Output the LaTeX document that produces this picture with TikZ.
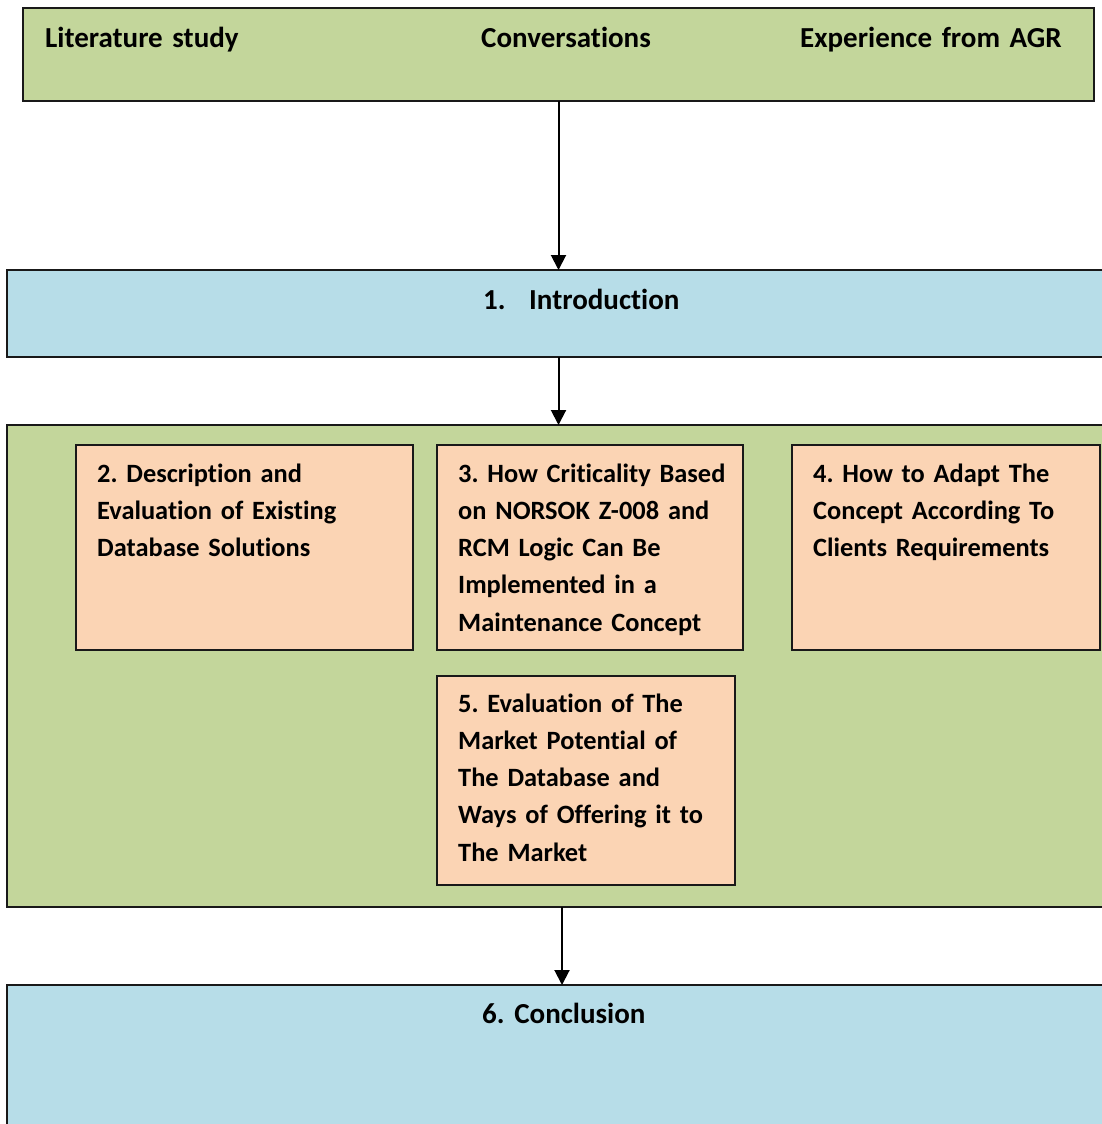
\documentclass[tikz,border=0pt]{standalone}
\usepackage{fontspec}
\setmainfont{Carlito}[Ligatures=NoCommon, WordSpace=0.85]
\usetikzlibrary{arrows.meta,calc}
\definecolor{boxgreen}{HTML}{C3D69B}
\definecolor{boxblue}{HTML}{B7DDE8}
\definecolor{boxpeach}{HTML}{FBD4B4}
\frenchspacing
\begin{document}
\begin{tikzpicture}[x=1pt,y=-1pt,
  frame/.style={draw=black!90, line width=2pt, inner sep=0pt, outer sep=0pt,
    anchor=north west, rectangle},
  txt/.style={anchor=base west, inner sep=0pt, text width=340pt, align=left,
    font=\fontsize{29}{37.3}\selectfont\bfseries},
  subtxt/.style={txt, font=\fontsize{26.4}{37.3}\selectfont\bfseries},
  arr/.style={line width=2pt, -{Triangle[width=15pt,length=15pt]}}]
\useasboundingbox (0,0) rectangle (1102,1124);
\clip (0,0) rectangle (1102,1124);

% sources
\node[frame, fill=boxgreen, minimum width=1071pt, minimum height=93pt] (src) at (23,8) {};
\node[txt] (lit) at (45,48) {Literature study};
\node[txt] (conv) at (481,48) {Conversations};
\node[txt] (agr) at (800,48) {Experience from AGR};

% chapter 1
\node[frame, fill=boxblue, minimum width=1110pt, minimum height=87pt] (intro) at (7,270) {};
\node[txt] (introtxt) at (483,309) {\makebox[46pt][l]{1.}Introduction};

% chapters 2-5
\node[frame, fill=boxgreen, minimum width=1110pt, minimum height=482pt] (main) at (7,425) {};
\node[frame, fill=boxpeach, minimum width=337pt, minimum height=205pt] (b2) at (76,445) {};
\node[frame, fill=boxpeach, minimum width=306pt, minimum height=205pt] (b3) at (437,445) {};
\node[frame, fill=boxpeach, minimum width=308pt, minimum height=205pt] (b4) at (792,445) {};
\node[frame, fill=boxpeach, minimum width=298pt, minimum height=209pt] (b5) at (437,676) {};
\node[subtxt] (t2) at (97,482) {2. Description and\\Evaluation of Existing\\Database Solutions};
\node[subtxt] (t3) at (458,482) {3. How Criticality Based\\on NORSOK Z-008 and\\RCM Logic Can Be\\Implemented in a\\Maintenance Concept};
\node[subtxt] (t4) at (813,482) {4. How to Adapt The\\Concept According To\\Clients Requirements};
\node[subtxt] (t5) at (458,712) {5. Evaluation of The\\Market Potential of\\The Database and\\Ways of Offering it to\\The Market};

% chapter 6
\node[frame, fill=boxblue, minimum width=1110pt, minimum height=160pt] (concl) at (7,985) {};
\node[txt] (t6) at (482,1023) {6. Conclusion};

% flow
\draw[arr] (src.south) -- (src.south |- intro.north);
\draw[arr] (src.south |- intro.south) -- (src.south |- main.north);
\draw[arr] ($(main.south west)+(555,0)$) -- ($(concl.north west)+(555,0)$);
\end{tikzpicture}
\end{document}
